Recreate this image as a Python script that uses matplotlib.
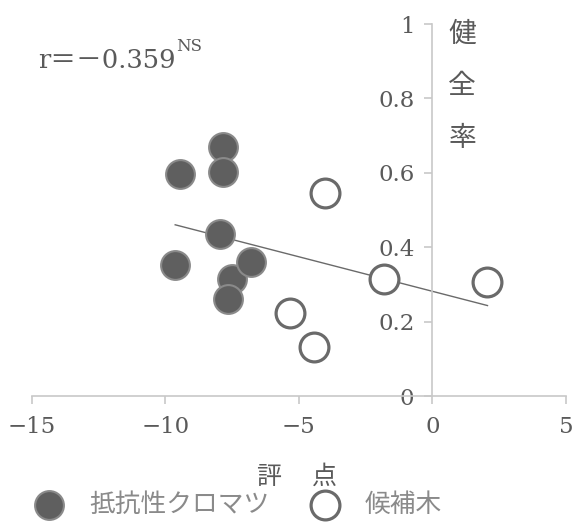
import matplotlib
matplotlib.use("Agg")
import matplotlib.pyplot as plt
import numpy as np

# 抵抗性クロマツ (filled)
res_x = [-9.44, -7.83, -7.83, -7.94, -9.63, -7.49, -6.78, -7.64]
res_y = [0.597, 0.669, 0.602, 0.435, 0.352, 0.315, 0.360, 0.261]
# 候補木 (open)
cand_x = [-4.04, -1.80, 2.06, -5.32, -4.42]
cand_y = [0.546, 0.315, 0.306, 0.223, 0.132]

xticks = [-15, -10, -5, 0, 5]
yticks = [0, 0.2, 0.4, 0.6, 0.8, 1]
ytick_labels = ["0", "0.2", "0.4", "0.6", "0.8", "1"]

serif = ["DejaVu Serif", "Noto Sans CJK JP"]
jp = ["Noto Sans CJK JP", "DejaVu Sans"]
txt_col = "#5a5a5a"
axis_col = "#c8c8c8"
msize = 430

fig = plt.figure(figsize=(5.77, 5.22), dpi=100)
ax = fig.add_axes([0.055, 0.241, 0.926, 0.713])

ax.scatter(res_x, res_y, s=msize, c="#5f5f5f", edgecolors="#8a8a8a",
           linewidths=1.5, zorder=3)
ax.scatter(cand_x, cand_y, s=msize, c="white", edgecolors="#6a6a6a",
           linewidths=2.3, zorder=3)

# regression line over all points
all_x = np.array(res_x + cand_x)
all_y = np.array(res_y + cand_y)
k, b = np.polyfit(all_x, all_y, 1)
lx = np.array([all_x.min(), all_x.max()])
ax.plot(lx, k * lx + b, color="#6a6a6a", lw=1.0, zorder=2)

ax.set_xlim(-15, 5)
ax.set_ylim(0, 1)
ax.spines["left"].set_position(("data", 0))
ax.spines["right"].set_visible(False)
ax.spines["top"].set_visible(False)
for s in ("left", "bottom"):
    ax.spines[s].set_color(axis_col)
    ax.spines[s].set_linewidth(1.2)

ax.set_xticks(xticks)
ax.set_xticklabels([str(t).replace("-", "−") for t in xticks])
ax.set_yticks(yticks)
ax.set_yticklabels(ytick_labels)
ax.tick_params(axis="both", colors=axis_col, labelcolor=txt_col,
               labelsize=16.5, length=6, width=1.2)
ax.tick_params(axis="x", pad=8)
ax.tick_params(axis="y", pad=7)
for lab in ax.get_xticklabels() + ax.get_yticklabels():
    lab.set_family(serif)

corr = ax.text(0.012, 0.903, "r＝－0.359", transform=ax.transAxes,
               fontsize=18.5, color=txt_col, family=serif, va="center")
ax.annotate("NS", xy=(1, 0.70), xycoords=corr, fontsize=12,
            color=txt_col, family=serif, va="bottom", ha="left")

# vertical y label, one character per line
for ch, yy in zip("健全率", [0.935, 0.836, 0.736]):
    fig.text(0.801, yy, ch, fontsize=20, color=txt_col, family=jp,
             ha="center", va="center")
# x label
for ch, xx in zip("評点", [0.465, 0.563]):
    fig.text(xx, 0.086, ch, fontsize=18, color=txt_col, family=jp,
             ha="center", va="center")

h1 = ax.scatter([], [], s=msize, c="#5f5f5f", edgecolors="#8a8a8a", linewidths=1.5)
h2 = ax.scatter([], [], s=msize, c="white", edgecolors="#6a6a6a", linewidths=2.3)
leg = fig.legend([h1, h2], ["抵抗性クロマツ", "候補木"], loc="center left",
                 bbox_to_anchor=(0.041, 0.033), ncol=2, frameon=False,
                 prop={"family": jp, "size": 18.5}, handletextpad=0.55,
                 columnspacing=1.15, labelcolor="#8a8a8a", borderaxespad=0,
                 borderpad=0)

fig.savefig("out.png", dpi=100)
